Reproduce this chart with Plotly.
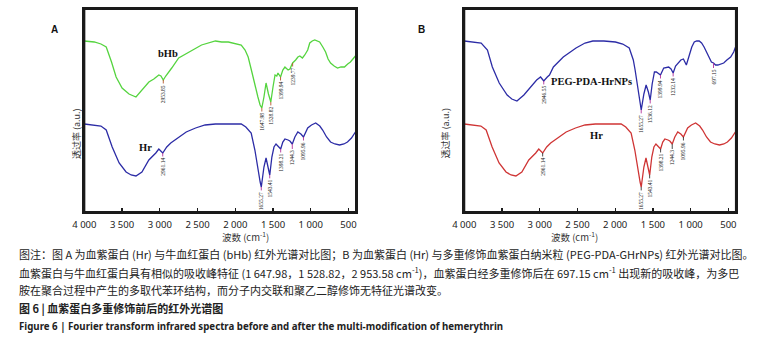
import numpy as np
import plotly.graph_objects as go

W, H = 763, 337

# ---------------- data ----------------
bhb_wn = [4000, 3868, 3780, 3710, 3640, 3579, 3500, 3408, 3316, 3237, 3145, 3079, 3013, 2985, 2954, 2921,
          2890, 2842, 2750, 2618, 2447, 2263, 2180, 2092, 1921, 1870, 1829, 1780, 1737, 1700, 1671, 1648,
          1620, 1592, 1560, 1529, 1500, 1473, 1450, 1434, 1400, 1370, 1342, 1300, 1276, 1240, 1200, 1170,
          1144, 1110, 1079, 1040, 1013, 980, 947, 900, 882, 840, 803, 770, 737, 690, 645, 600, 553, 510,
          474, 430, 408]
bhb_t = [171, 170, 168, 165, 150, 135, 124, 118, 115, 122, 130, 133, 137, 136, 132, 136,
         139, 144, 154, 160, 167, 171, 170, 170, 167, 162, 155, 140, 125, 115, 107, 104,
         115, 129, 118, 110, 125, 137, 136, 139, 135, 142, 145, 142, 143, 149, 152, 155,
         156, 154, 157, 162, 169, 171, 172, 171, 170, 165, 160, 153, 149, 146, 144, 145, 145, 148,
         150, 154, 156]

hr_wn = [4000, 3868, 3780, 3710, 3631, 3539, 3447, 3380, 3316, 3237, 3145, 3053, 3013, 2961, 2908, 2855,
         2750, 2650, 2526, 2400, 2263, 2100, 1921, 1860, 1789, 1740, 1700, 1670, 1655, 1620, 1592, 1565,
         1543, 1515, 1487, 1460, 1421, 1398, 1370, 1342, 1300, 1276, 1244, 1210, 1171, 1130, 1096, 1070,
         1040, 990, 934, 880, 842, 790, 737, 680, 618, 560, 513, 460, 408]
hr_t = [88, 87, 86, 82, 65, 49, 40, 37, 36, 40, 52, 59, 63, 59, 65, 69,
        75, 80, 84, 87, 88, 88, 88, 85, 79, 62, 42, 30, 25, 45, 54, 45,
        37, 55, 65, 68, 65, 63, 70, 73, 72, 71, 68, 75, 80, 78, 75, 80,
        84, 87, 89, 86, 82, 75, 70, 68, 67, 68, 70, 74, 80]

peg_wn = [4000, 3880, 3776, 3693, 3628, 3537, 3432, 3370, 3302, 3210, 3119, 3041, 2989, 2947, 2900, 2871,
          2819, 2688, 2519, 2400, 2297, 2150, 1997, 1900, 1814, 1760, 1736, 1683, 1655, 1620, 1590, 1560,
          1536, 1510, 1480, 1454, 1430, 1400, 1357, 1292, 1260, 1232, 1200, 1161, 1130, 1096, 1075, 1057,
          1017, 985, 952, 920, 887, 855, 822, 790, 757, 725, 697, 670, 640, 600, 562, 520, 470, 430, 405]
peg_t = [171, 170, 169, 162, 145, 129, 117, 113, 111, 117, 125, 132, 135, 131, 135, 137,
         145, 155, 164, 169, 171, 171, 170, 168, 164, 152, 142, 115, 102, 118, 127, 120,
         112, 128, 140, 140, 139, 137, 144, 145, 143, 139, 146, 150, 152, 153, 150, 147,
         157, 165, 170, 171, 171, 169, 165, 160, 154, 150, 149, 147, 147, 148, 149, 152, 155, 160, 165]

bhb_peaks = [2953.85, 1647.98, 1528.82, 1399.94, 1239.77]
bhb_labels = ["2953.85", "1647.98", "1528.82", "1399.94", "1239.77"]
hr_peaks = [2961.14, 1655.27, 1543.41, 1398.21, 1244.3, 1095.96]
hr_labels = ["2961.14", "1655.27", "1543.41", "1398.21", "1244.3", "1095.96"]
peg_peaks = [2946.55, 1655.27, 1536.12, 1399.94, 1232.14, 697.15]
peg_labels = ["2946.55", "1655.27", "1536.12", "1399.94", "1232.14", "697.15"]

tick_vals = [4000, 3500, 3000, 2500, 2000, 1500, 1000, 500]
tick_text = ["4 000", "3 500", "3 000", "2 500", "2 000", "1 500", "1 000", "500"]

X_RANGE = [4000, 400]
Y_RANGE = [0, 203]

GREEN = "#55d43f"
BLUE = "#2c2ca6"
RED = "#cf3535"
FRAME = "#1a1a1a"

# ---------------- figure ----------------
fig = go.Figure()
series = [
    (bhb_wn, bhb_t, GREEN, "x", "y"),
    (hr_wn, hr_t, BLUE, "x", "y"),
    (peg_wn, peg_t, BLUE, "x2", "y2"),
    (hr_wn, hr_t, RED, "x2", "y2"),
]
for xs, ys, col, xa, ya in series:
    fig.add_trace(go.Scatter(x=xs, y=ys, mode="lines", line=dict(color=col, width=1.3),
                             xaxis=xa, yaxis=ya, showlegend=False, hoverinfo="skip"))

def px(v):
    return v / W

def py(v):
    return 1 - v / H

ydom = [py(212), py(9)]
axis_common = dict(range=X_RANGE, tickvals=tick_vals, ticktext=tick_text, ticks="inside", ticklen=4,
                   tickcolor=FRAME, tickwidth=1.2, showline=True, linecolor=FRAME, linewidth=2,
                   mirror=True, showgrid=False, zeroline=False, ticklabelstandoff=3,
                   tickfont=dict(family="Noto Sans", size=9.5, color="#222"))
yaxis_common = dict(range=Y_RANGE, showticklabels=False, ticks="", showline=True, linecolor=FRAME,
                    linewidth=2, mirror=True, showgrid=False, zeroline=False)

frame_shapes = []
for x0, x1 in [(73.5, 349.5), (459.5, 735.5)]:
    frame_shapes.append(dict(type="rect", xref="paper", yref="paper", x0=px(x0), x1=px(x1),
                             y0=py(212), y1=py(9), line=dict(color=FRAME, width=2), layer="above"))

fig.update_layout(
    width=W, height=H, margin=dict(l=0, r=0, t=0, b=0),
    paper_bgcolor="white", plot_bgcolor="white",
    xaxis=dict(domain=[px(73.5), px(349.5)], anchor="y", **axis_common),
    yaxis=dict(domain=ydom, anchor="x", **yaxis_common),
    xaxis2=dict(domain=[px(459.5), px(735.5)], anchor="y2", **axis_common),
    yaxis2=dict(domain=ydom, anchor="x2", **yaxis_common),
    shapes=frame_shapes,
)

ann = []

def peak_anns(wn, t, peaks, labels, xref, yref, color):
    order = np.argsort(wn)
    xs = np.array(wn)[order]
    ys = np.array(t)[order]
    for p, lab in zip(peaks, labels):
        yv = float(np.interp(p, xs, ys))
        ann.append(dict(x=p, y=yv, xref=xref, yref=yref, text=lab, textangle=-90,
                        showarrow=True, arrowhead=0, arrowwidth=0.9, arrowcolor=color,
                        ax=0, ay=14, font=dict(family="Liberation Serif", size=5.5, color="#222")))

peak_anns(bhb_wn, bhb_t, bhb_peaks, bhb_labels, "x", "y", "#b5562a")
peak_anns(hr_wn, hr_t, hr_peaks, hr_labels, "x", "y", "#b0309a")
peak_anns(peg_wn, peg_t, peg_peaks, peg_labels, "x2", "y2", "#b0309a")
peak_anns(hr_wn, hr_t, hr_peaks, hr_labels, "x2", "y2", "#333333")

serif_b = dict(family="Liberation Serif", size=10.5, color="#111")
ann.append(dict(x=2897, y=159, xref="x", yref="y", text="<b>bHb</b>", showarrow=False, font=serif_b))
ann.append(dict(x=3190, y=65, xref="x", yref="y", text="<b>Hr</b>", showarrow=False, font=serif_b))
ann.append(dict(x=2310, y=131, xref="x2", yref="y2", text="<b>PEG-PDA-HrNPs</b>", showarrow=False, font=serif_b))
ann.append(dict(x=2245, y=77, xref="x2", yref="y2", text="<b>Hr</b>", showarrow=False, font=serif_b))

# panel letters
for lx, txt in [(38, "A"), (416, "B")]:
    ann.append(dict(x=px(lx), y=py(22), xref="paper", yref="paper", text="<b>%s</b>" % txt, showarrow=False,
                    font=dict(family="Liberation Sans", size=10, color="#111")))
# axis titles
for lx in [57, 440]:
    ann.append(dict(x=px(lx), y=py(106), xref="paper", yref="paper", text="透过率 (a.u.)", textangle=-90,
                    showarrow=False, font=dict(family="Noto Sans CJK SC", size=9, color="#333")))
for lx in [211, 597]:
    ann.append(dict(x=px(lx), y=py(246), xref="paper", yref="paper", text="波数 (cm<sup>-1</sup>)",
                    showarrow=False, font=dict(family="Noto Sans CJK SC", size=9.5, color="#333")))

# caption
cap_font = dict(family="Noto Sans CJK SC", size=11, color="#222")
captions = [
    (254, "图注：图 A 为血紫蛋白 (Hr) 与牛血红蛋白 (bHb) 红外光谱对比图；B 为血紫蛋白 (Hr) 与多重修饰血紫蛋白纳米粒 (PEG-PDA-GHrNPs) 红外光谱对比图。", cap_font),
    (272, "血紫蛋白与牛血红蛋白具有相似的吸收峰特征 (1 647.98，1 528.82，2 953.58 cm<sup>-1</sup>)，血紫蛋白经多重修饰后在 697.15 cm<sup>-1</sup> 出现新的吸收峰，为多巴", cap_font),
    (290, "胺在聚合过程中产生的多取代苯环结构，而分子内交联和聚乙二醇修饰无特征光谱改变。", cap_font),
    (308, "<b>图 6 | 血紫蛋白多重修饰前后的红外光谱图</b>", dict(family="Noto Sans CJK SC", size=11, color="#222")),
    (326, "<b>Figure 6 | Fourier transform infrared spectra before and after the multi-modification of hemerythrin</b>",
     dict(family="Noto Sans", size=9.7, color="#222")),
]
for yy, txt, f in captions:
    ann.append(dict(x=px(5), y=py(yy), xref="paper", yref="paper", xanchor="left", yanchor="middle",
                    text=txt, showarrow=False, font=f))

fig.update_layout(annotations=ann)
post = "document.body.style.margin='0';document.body.style.overflow='hidden';"
fig.write_html("out.html", config={"displayModeBar": False, "staticPlot": True}, post_script=post)
